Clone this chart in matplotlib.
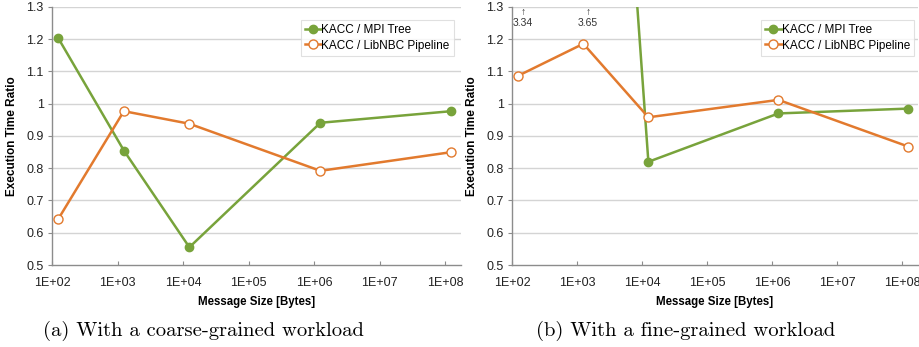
import matplotlib
matplotlib.use("Agg")
import matplotlib.pyplot as plt
from matplotlib.ticker import FixedLocator, NullLocator

plt.rcParams['font.family'] = ['Liberation Sans', 'DejaVu Sans']

# ---- data ----
msg_sizes = [125, 1250, 12500, 1.25e6, 1.25e8]
coarse_mpi_tree = [1.203, 0.855, 0.555, 0.941, 0.977]
coarse_libnbc = [0.643, 0.977, 0.938, 0.792, 0.850]
fine_mpi_tree = [3.34, 3.65, 0.820, 0.970, 0.985]
fine_libnbc = [1.087, 1.186, 0.958, 1.012, 0.867]
x_ticks = [1e2, 1e3, 1e4, 1e5, 1e6, 1e7, 1e8]
x_tick_labels = ["1E+02", "1E+03", "1E+04", "1E+05", "1E+06", "1E+07", "1E+08"]
y_ticks = [0.5, 0.6, 0.7, 0.8, 0.9, 1.0, 1.1, 1.2, 1.3]
y_tick_labels = ["0.5", "0.6", "0.7", "0.8", "0.9", "1", "1.1", "1.2", "1.3"]
series_labels = ["KACC / MPI Tree", "KACC / LibNBC Pipeline"]
captions = ["(a) With a coarse-grained workload", "(b) With a fine-grained workload"]
xlabel = "Message Size [Bytes]"
ylabel = "Execution Time Ratio"

GREEN = "#78a33b"
ORANGE = "#e27a2e"
GRID = "#d4d4d4"
SPINE = "#8c8c8c"

fig = plt.figure(figsize=(9.19, 3.47), dpi=100)
ax_l = fig.add_axes([52/919, 1-265/347, (461-52)/919, (265-7)/347])
ax_r = fig.add_axes([512/919, 1-265/347, (918-512)/919, (265-7)/347])

def style(ax, mpi, nbc, leg_anchor):
    ax.set_xscale("log")
    ax.set_xlim(1e2, 1.75e8)
    ax.set_ylim(0.5, 1.3)
    ax.xaxis.set_major_locator(FixedLocator(x_ticks))
    ax.xaxis.set_minor_locator(NullLocator())
    ax.set_xticks(x_ticks)
    ax.set_xticklabels(x_tick_labels)
    ax.set_yticks(y_ticks)
    ax.set_yticklabels(y_tick_labels)
    for y in y_ticks[1:]:
        ax.axhline(y, color=GRID, lw=1.0, zorder=0)
    for s in ["top", "right"]:
        ax.spines[s].set_visible(False)
    for s in ["left", "bottom"]:
        ax.spines[s].set_color(SPINE)
        ax.spines[s].set_linewidth(1.0)
    ax.tick_params(axis="x", direction="in", length=3, color=SPINE, labelsize=9, pad=9, labelcolor="#222222")
    ax.tick_params(axis="y", direction="out", length=3, color=SPINE, labelsize=9, pad=3, labelcolor="#222222")
    ax.plot(msg_sizes, mpi, color=GREEN, lw=1.8, marker="o", ms=6,
            mfc=GREEN, mec=GREEN, label=series_labels[0], zorder=3)
    ax.plot(msg_sizes, nbc, color=ORANGE, lw=1.8, marker="o", ms=6.5,
            mfc="white", mec=ORANGE, mew=1.0, label=series_labels[1], zorder=3)
    ax.set_xlabel(xlabel, fontsize=8.3, fontweight="bold", labelpad=5)
    ax.set_ylabel(ylabel, fontsize=8.5, fontweight="bold", labelpad=6)
    leg = ax.legend(loc="upper right", bbox_to_anchor=leg_anchor, borderaxespad=0,
                    fontsize=8.5, frameon=True, fancybox=False, handlelength=1.4,
                    handletextpad=0.0, borderpad=0.35, labelspacing=0.3)
    leg.get_frame().set_edgecolor("#d9d9d9")
    leg.get_frame().set_linewidth(0.8)

style(ax_l, coarse_mpi_tree, coarse_libnbc, (0.982, 0.95))
style(ax_r, fine_mpi_tree, fine_libnbc, (0.99, 0.95))

# off-scale annotations on the fine-grained plot
ymax = 1.3
for x, v in zip(msg_sizes, fine_mpi_tree):
    if v > ymax:
        ax_r.annotate("\u2191", xy=(x * 1.18, 1.283), ha="center", va="center",
                      fontsize=7.5, annotation_clip=False, color="#333333")
        ax_r.annotate(f"{v:.2f}", xy=(x * 1.18, 1.25), ha="center", va="center",
                      fontsize=7.5, annotation_clip=False, color="#333333")

fig.text(203/919, 1-331/347, captions[0], ha="center", va="center",
         fontsize=14.8, family=["cmr10", "DejaVu Serif"])
fig.text(686/919, 1-331/347, captions[1], ha="center", va="center",
         fontsize=14.8, family=["cmr10", "DejaVu Serif"])

fig.savefig("out.png", dpi=100)
